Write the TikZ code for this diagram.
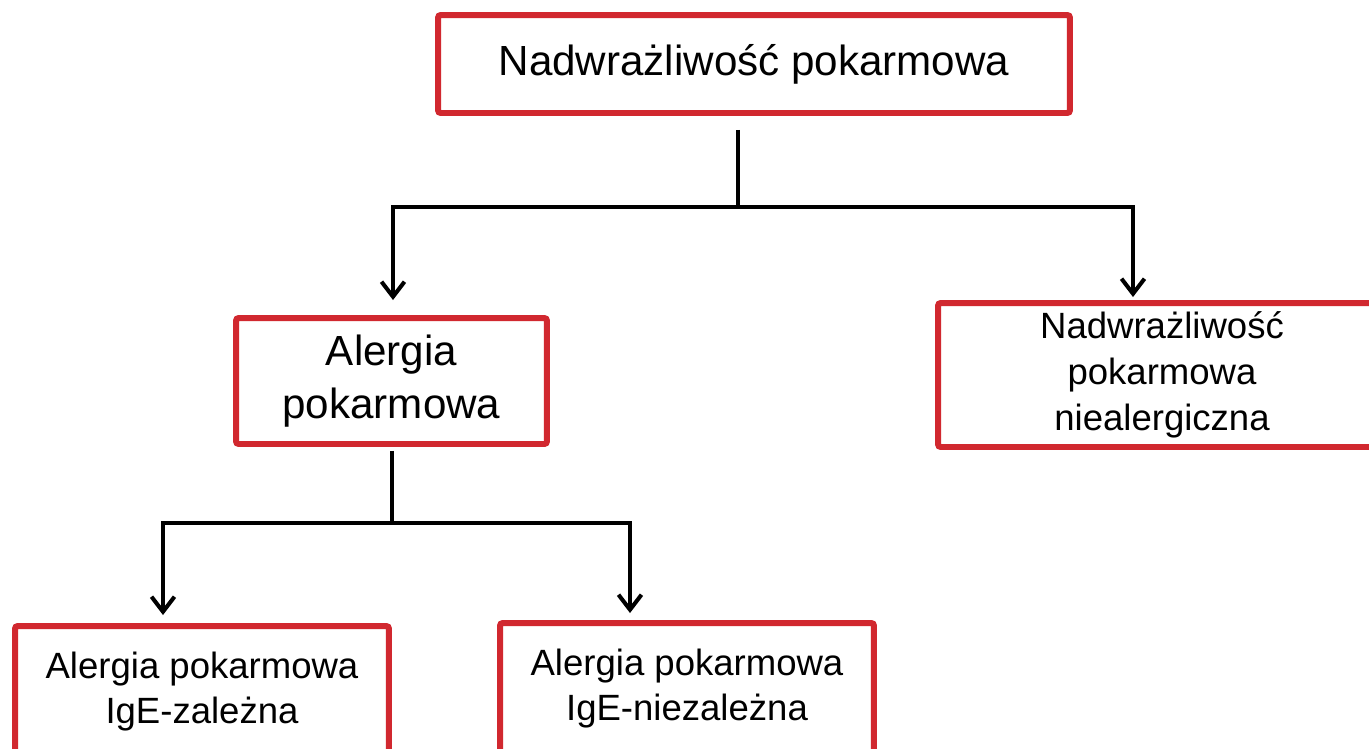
\documentclass[tikz,border=0pt]{standalone}
\usepackage{fontspec}
\setmainfont{Liberation Sans}
\usetikzlibrary{arrows.meta}
\definecolor{boxred}{RGB}{209,40,47}
\begin{document}
\begin{tikzpicture}[x=0.02cm,y=-0.02cm,
				box/.style={draw=boxred,line width=3.4pt,rounded corners=1.5pt,align=center,inner sep=0pt,fill=white},
				bigtext/.style={font=\fontsize{24}{29.8}\selectfont},
				smalltext/.style={font=\fontsize{20.8}{26}\selectfont},
				conn/.style={line width=2.3pt},
				arr/.style={conn,-{Straight Barb[length=0.3cm,width=0.46cm]}}]
\useasboundingbox[fill=white] (0,0) rectangle (1369,748);
\clip (0,0) rectangle (1369,748);
\node[box,bigtext,minimum width=12.64cm,minimum height=1.96cm] (top) at (754,64) {Nadwrażliwość pokarmowa};
\node[box,bigtext,minimum width=6.22cm,minimum height=2.52cm] (alergia) at (391.5,381) {Alergia\\pokarmowa};
\node[box,smalltext,minimum width=8.96cm,minimum height=2.88cm] (niealerg) at (1162,375) {Nadwrażliwość\\pokarmowa\\niealergiczna};
\node[box,smalltext,minimum width=7.48cm,minimum height=2.62cm] (igez) at (202,691.5) {Alergia pokarmowa\\IgE-zależna};
\node[box,smalltext,minimum width=7.48cm,minimum height=2.62cm] (ignz) at (687,688.5) {Alergia pokarmowa\\IgE-niezależna};
\coordinate (split1) at (738,207);
\coordinate (split2) at (392,523);
\draw[conn] (top.south -| split1) ++(0,14) -- (split1);
\draw[arr] (split1) -| ([shift={(1.5,-15)}]alergia.north);
\draw[arr] (split1) -| ([shift={(-29,-3)}]niealerg.north);
\draw[conn] (alergia.south -| split2) ++(0,4) -- (split2);
\draw[arr] (split2) -| ([shift={(-39,-8)}]igez.north);
\draw[arr] (split2) -| ([shift={(-57,-7)}]ignz.north);
\end{tikzpicture}
\end{document}
